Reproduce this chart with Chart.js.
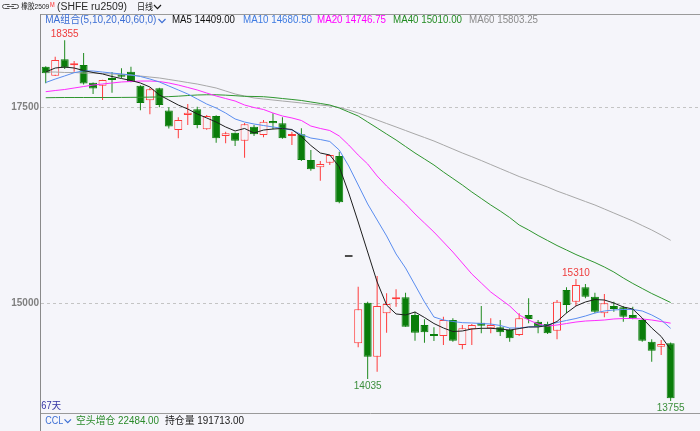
<!DOCTYPE html>
<html><head><meta charset="utf-8">
<script src="https://cdn.jsdelivr.net/npm/chart.js@4.4.1/dist/chart.umd.min.js"></script>
<style>html,body{margin:0;padding:0;background:#f5f5fa;overflow:hidden}canvas{display:block}</style>
</head><body>
<canvas id="c" width="700" height="431"></canvas>
<script>
// ---- data ----
const dayIndex = Array.from({length: 67}, (_, i) => i);
const open = [18018,17903,18112,18035,18040,17812,17776,17870,17921,17954,
  17776,17589,17742,17460,17211,17402,17474,17219,17389,17134,
  17176,17074,17253,17147,17325,17296,17134,17155,16828,16735,
  16794,16879,15590,14490,15008,14319,14872,15051,15077,14851,
  14723,14608,14583,14787,14468,14668,14753,14681,14694,14660,
  14596,14851,14765,14736,14651,15170,15021,15204,15085,14872,
  14966,14949,14851,14787,14510,14446,14490];
const high = [18025,18145,18355,18090,18194,17815,17850,17950,17998,18018,
  17780,17750,17750,17500,17372,17542,17508,17402,17400,17189,
  17180,17300,17274,17338,17423,17372,17189,17232,16955,16815,
  16895,16934,15590,15212,15020,15348,15128,15179,15135,14893,
  14796,14694,14829,14809,14723,14736,14966,14809,14787,14681,
  14872,15064,14787,14765,15042,15204,15310,15246,15135,15119,
  15021,14966,14957,14809,14541,14532,14500];
const low = [17806,17900,17990,17955,17790,17670,17593,17686,17870,17820,
  17462,17410,17500,17230,17104,17274,17232,17215,17049,17040,
  17006,16857,17134,17117,17219,17100,17019,16815,16691,16564,
  16764,16276,15590,14439,14035,14128,14625,14957,14700,14523,
  14497,14519,14468,14510,14413,14468,14617,14617,14583,14510,
  14583,14745,14617,14608,14541,14872,14966,15064,14872,14821,
  14893,14765,14796,14510,14255,14341,13755];
const close = [17934,18103,18005,18050,17804,17740,17848,17848,17890,17827,
  17556,17729,17530,17256,17338,17431,17274,17389,17104,17168,
  17074,17283,17156,17317,17296,17104,17155,16828,16709,16777,
  16892,16288,15590,14923,14319,14966,14991,15071,14702,14625,
  14630,14583,14787,14523,14681,14723,14714,14723,14630,14553,
  14809,14800,14702,14617,15021,14978,15233,15085,14893,15000,
  14928,14830,14809,14523,14396,14481,13788];
const ma5 = [17950,18001,18014,18001,17969,17944,17925,17893,17867,17842,
  17810,17759,17657,17593,17529,17478,17415,17364,17312,17249,
  17198,17230,17172,17210,17223,17230,17217,17128,17013,16917,
  16892,16740,16407,16037,15654,15272,14978,14864,14851,14889,
  14819,14742,14685,14640,14647,14672,14681,14681,14672,14659,
  14678,14698,14698,14717,14768,14876,14966,15017,15048,15042,
  15004,14953,14927,14812,14685,14577,14409];
const ma10 = [17816,17860,17900,17941,17965,17963,17950,17937,17925,17912,
  17893,17861,17823,17772,17721,17670,17606,17542,17491,17427,
  17351,17312,17287,17268,17249,17230,17210,17153,17108,17089,
  17064,16955,16751,16509,16267,16063,15859,15629,15450,15234,
  15017,14825,14787,14768,14753,14749,14742,14736,14717,14685,
  14685,14698,14704,14723,14755,14781,14806,14838,14876,14902,
  14915,14921,14921,14902,14851,14787,14680.5];
const ma20 = [17699,17714,17727,17746,17765,17784,17797,17810,17823,17829,
  17835,17835,17829,17810,17784,17753,17721,17682,17644,17612,
  17580,17529,17497,17472,17427,17389,17364,17332,17261,17230,
  17204,17134,17019,16891,16777,16624,16496,16381,16267,16139,
  16024,15909,15782,15654,15514,15374,15259,15144,15055,14966,
  14851,14787,14736,14710,14723,14742,14761,14774,14780,14787,
  14800,14806,14806,14800,14787,14768,14746.75];
const ma40 = [17622,17624,17625,17625,17625,17625,17625,17625,17626,17627,
  17628,17630,17632,17636,17642,17650,17657,17660,17660,17655,
  17648,17640,17638,17635,17625,17612,17600,17587,17568,17549,
  17529,17491,17440,17389,17312,17236,17159,17083,17000,16917,
  16841,16764,16675,16592,16509,16420,16337,16254,16177,16094,
  15999,15935,15865,15801,15737,15680,15622,15571,15520,15463,
  15399,15323,15253,15189,15125,15068,15010];
const ma60 = [17950,17950,17944,17944,17937,17937,17931,17925,17918,17912,
  17899,17886,17874,17855,17836,17816,17797,17772,17746,17708,
  17670,17644,17619,17606,17593,17580,17568,17555,17542,17529,
  17517,17497,17466,17427,17383,17338,17293,17249,17204,17159,
  17115,17070,17019,16968,16917,16870,16821,16770,16719,16668,
  16617,16573,16528,16483,16432,16388,16343,16298,16254,16203,
  16152,16101,16050,15992,15935,15871,15803.25];
const maPeriods = [5, 10, 20, 40, 60, 0];
const yTicks = [15000, 17500];
const marks = [{i: 2, kind: 'high'}, {i: 34, kind: 'low'}, {i: 56, kind: 'high'}, {i: 66, kind: 'low'}];
const dayCount = dayIndex.length;
const shortAdd = 22484.00;
const openInterest = 191713.00;

// ---- style ----
const BG = '#f5f5fa';
const UP = '#ff3b3b', DOWN = '#0a7d0a', FLAT = '#4d4d4d';
const dirColor = i => close[i] > open[i] ? UP : (close[i] < open[i] ? DOWN : FLAT);
const wickColor = i => close[i] > open[i] ? UP : (close[i] < open[i] ? '#1f8a1f' : FLAT);
const MA_COL = {ma5: '#1e1e1e', ma10: '#5a8df0', ma20: '#ff2cff', ma40: '#2f962f', ma60: '#a8a8a8'};

const line = (arr, col) => ({
  type: 'line', data: arr.map((v, i) => ({x: i, y: v})), borderColor: col, borderWidth: 1,
  pointRadius: 0, tension: 0, fill: false, order: 1
});

function drawFit(ctx, text, x, y, width, font, color, align) {
  ctx.save();
  ctx.font = font; ctx.fillStyle = color; ctx.textBaseline = 'middle'; ctx.textAlign = 'left';
  const w = ctx.measureText(text).width;
  const sx = width ? width / w : 1;
  const x0 = align === 'center' ? x - (w * sx) / 2 : x;
  ctx.translate(x0, y); ctx.scale(sx, 1);
  ctx.fillText(text, 0, 0);
  ctx.restore();
}
function chevron(ctx, x, y, w, h, col) {
  ctx.save(); ctx.strokeStyle = col; ctx.lineWidth = 1.2;
  ctx.beginPath(); ctx.moveTo(x, y); ctx.lineTo(x + w / 2, y + h); ctx.lineTo(x + w, y); ctx.stroke();
  ctx.restore();
}

const decor = {
  id: 'decor',
  beforeDraw(chart) {
    const ctx = chart.ctx;
    ctx.save(); ctx.fillStyle = BG; ctx.fillRect(0, 0, chart.width, chart.height); ctx.restore();
  },
  afterDraw(chart) {
    const ctx = chart.ctx, xs = chart.scales.x, ys = chart.scales.y;
    ctx.save();
    // frame lines
    ctx.strokeStyle = '#9a9a9a'; ctx.lineWidth = 1;
    ctx.beginPath(); ctx.moveTo(41, 14.5); ctx.lineTo(700, 14.5); ctx.stroke();
    ctx.beginPath(); ctx.moveTo(41, 413.5); ctx.lineTo(700, 413.5); ctx.stroke();
    ctx.strokeStyle = '#8a8a8a';
    ctx.beginPath(); ctx.moveTo(40.5, 14); ctx.lineTo(40.5, 431); ctx.stroke();
    // link icon
    ctx.strokeStyle = '#555'; ctx.lineWidth = 1;
    ctx.beginPath(); ctx.moveTo(9.5, 4.5); ctx.lineTo(4.5, 4.5); ctx.arc(4.5, 6.5, 2, -Math.PI/2, Math.PI/2, true); ctx.lineTo(9.5, 8.5); ctx.stroke();
    ctx.beginPath(); ctx.moveTo(11.5, 4.5); ctx.lineTo(16.5, 4.5); ctx.arc(16.5, 6.5, 2, -Math.PI/2, Math.PI/2); ctx.lineTo(11.5, 8.5); ctx.stroke();
    ctx.beginPath(); ctx.moveTo(7, 6.5); ctx.lineTo(14, 6.5); ctx.stroke();
    ctx.restore();

    const LF = '"Liberation Sans", "Noto Sans CJK SC", sans-serif';
    // row 1
    drawFit(ctx, '橡胶2509', 21.3, 6.8, 28, '8px ' + LF, '#1a1a1a');
    drawFit(ctx, 'M', 50, 5, 4.7, '7px ' + LF, '#ff2020');
    drawFit(ctx, '(SHFE ru2509)', 57, 7, 70, '10px ' + LF, '#2a2a2a');
    drawFit(ctx, '日线', 137, 6.8, 16, '9px "Noto Sans CJK SC", sans-serif', '#1a1a1a');
    chevron(ctx, 154, 5, 7, 3.6, '#1a1a1a');
    // row 2 : MA legend
    drawFit(ctx, 'MA组合(' + maPeriods.join(',') + ')', 45.3, 20.5, 111, '10px ' + LF, '#3d6fd4');
    chevron(ctx, 158.5, 19, 7, 3.6, '#3d6fd4');
    const leg = [['MA5', ma5, '#111111', 172, 63], ['MA10', ma10, '#3f7ce2', 243, 69],
                 ['MA20', ma20, '#ff00ff', 317, 69], ['MA40', ma40, '#238c23', 393, 69],
                 ['MA60', ma60, '#8c8c8c', 469, 69]];
    leg.forEach(([n, arr, col, x, w]) => drawFit(ctx, n + ' ' + arr[arr.length - 1].toFixed(2), x, 20.5, w, '10px ' + LF, col));
    // bottom rows
    drawFit(ctx, dayCount + '天', 41.3, 406.7, 19.7, '10px ' + LF, '#3434a4');
    drawFit(ctx, 'CCL', 45.3, 421, 18, '10px ' + LF, '#3d6fd4');
    chevron(ctx, 64.5, 419.3, 6.5, 3.4, '#3d6fd4');
    drawFit(ctx, '空头增仓 ' + shortAdd.toFixed(2), 76, 421, 83, '10px ' + LF, '#2a8a2a');
    drawFit(ctx, '持仓量 ' + openInterest.toFixed(2), 165, 421, 79, '10px ' + LF, '#1a1a1a');
    // extreme value labels
    marks.forEach(m => {
      const x = xs.getPixelForValue(m.i);
      if (m.kind === 'high') {
        const y = ys.getPixelForValue(high[m.i]);
        drawFit(ctx, String(high[m.i]), x, y - 6, 0, '10px "Liberation Sans"', '#ee3b3b', 'center');
      } else {
        const y = ys.getPixelForValue(low[m.i]);
        drawFit(ctx, String(low[m.i]), x, y + 7, 0, '10px "Liberation Sans"', '#3b8e3b', 'center');
      }
    });
  }
};

new Chart(document.getElementById('c'), {
  type: 'bar',
  data: {
    datasets: [
      line(ma5, MA_COL.ma5), line(ma10, MA_COL.ma10), line(ma20, MA_COL.ma20),
      line(ma40, MA_COL.ma40), line(ma60, MA_COL.ma60),
      {
        type: 'bar', data: dayIndex.map(i => ({x: i, y: [open[i], close[i]]})),
        barThickness: 8, grouped: false, order: 2, minBarLength: 2, inflateAmount: 0,
        backgroundColor: dayIndex.map(i => close[i] > open[i] ? BG : dirColor(i)),
        borderColor: dayIndex.map(dirColor), borderWidth: 1, borderSkipped: false
      },
      {
        type: 'bar', data: dayIndex.map(i => ({x: i, y: [low[i], high[i]]})),
        barThickness: 1, grouped: false, order: 3, minBarLength: 1, inflateAmount: 0,
        backgroundColor: dayIndex.map(wickColor), borderWidth: 0
      }
    ]
  },
  options: {
    responsive: false, animation: false, devicePixelRatio: 1,
    layout: {padding: {top: 28, bottom: 18, left: 0, right: 0}},
    plugins: {legend: {display: false}, tooltip: {enabled: false}},
    scales: {
      x: {type: 'linear', min: -0.5, max: 69.1, display: false, offset: false},
      y: {
        min: 13600.8, max: 18511.5, position: 'left',
        afterBuildTicks: s => { s.ticks = yTicks.map(v => ({value: v})); },
        afterFit: s => { s.width = 41; },
        ticks: {color: '#808080', font: {family: '"Liberation Sans"', size: 10, weight: 'bold'}, padding: 2,
                callback: v => String(v)},
        grid: {color: '#c4c4c4', drawTicks: false, lineWidth: 1},
        border: {display: false, dash: [3, 3]}
      }
    }
  },
  plugins: [decor]
});
</script>
</body></html>
